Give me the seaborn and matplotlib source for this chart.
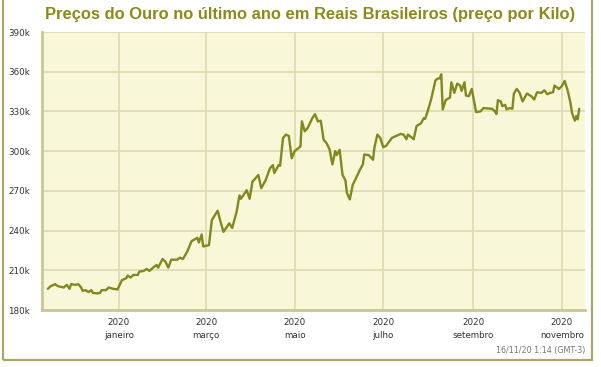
"""
Gold price in Brazilian reais per kilo, last year (recreated chart).
"""

import matplotlib
matplotlib.use("Agg")

import matplotlib.pyplot as plt
import matplotlib.ticker as mticker
import pandas as pd
import seaborn as sns
from matplotlib.patches import Rectangle


DATES = [
    "2019-11-13", "2019-11-15", "2019-11-18", "2019-11-20", "2019-11-24",
    "2019-11-26", "2019-11-28", "2019-11-29", "2019-12-02", "2019-12-04",
    "2019-12-06", "2019-12-07", "2019-12-09", "2019-12-11", "2019-12-13",
    "2019-12-14", "2019-12-17", "2019-12-19", "2019-12-20", "2019-12-23",
    "2019-12-25", "2019-12-28", "2019-12-31", "2020-01-03", "2020-01-06",
    "2020-01-07", "2020-01-09", "2020-01-11", "2020-01-14", "2020-01-15",
    "2020-01-18", "2020-01-20", "2020-01-22", "2020-01-25", "2020-01-27",
    "2020-01-28", "2020-01-31", "2020-02-02", "2020-02-04", "2020-02-06",
    "2020-02-10", "2020-02-12", "2020-02-14", "2020-02-17", "2020-02-20",
    "2020-02-24", "2020-02-25", "2020-02-27", "2020-02-28", "2020-03-03",
    "2020-03-05", "2020-03-09", "2020-03-11", "2020-03-13", "2020-03-17",
    "2020-03-19", "2020-03-22", "2020-03-24", "2020-03-25", "2020-03-29",
    "2020-03-31", "2020-04-02", "2020-04-06", "2020-04-08", "2020-04-11",
    "2020-04-14", "2020-04-16", "2020-04-17", "2020-04-20", "2020-04-21",
    "2020-04-23", "2020-04-25", "2020-04-27", "2020-04-29", "2020-05-01",
    "2020-05-05", "2020-05-06", "2020-05-08", "2020-05-10", "2020-05-13",
    "2020-05-15", "2020-05-17", "2020-05-19", "2020-05-21", "2020-05-23",
    "2020-05-25", "2020-05-27", "2020-05-29", "2020-05-30", "2020-06-01",
    "2020-06-03", "2020-06-05", "2020-06-06", "2020-06-08", "2020-06-10",
    "2020-06-12", "2020-06-15", "2020-06-17", "2020-06-18", "2020-06-21",
    "2020-06-24", "2020-06-25", "2020-06-27", "2020-06-29", "2020-07-01",
    "2020-07-03", "2020-07-07", "2020-07-09", "2020-07-13", "2020-07-15",
    "2020-07-17", "2020-07-18", "2020-07-21", "2020-07-22", "2020-07-24",
    "2020-07-27", "2020-07-29", "2020-07-30", "2020-08-01", "2020-08-03",
    "2020-08-06", "2020-08-08", "2020-08-09", "2020-08-10", "2020-08-11",
    "2020-08-13", "2020-08-16", "2020-08-17", "2020-08-19", "2020-08-21",
    "2020-08-23", "2020-08-24", "2020-08-26", "2020-08-27", "2020-08-29",
    "2020-08-31", "2020-09-03", "2020-09-06", "2020-09-08", "2020-09-14",
    "2020-09-16", "2020-09-17", "2020-09-18", "2020-09-20", "2020-09-21",
    "2020-09-23", "2020-09-24", "2020-09-26", "2020-09-28", "2020-09-29",
    "2020-10-01", "2020-10-03", "2020-10-05", "2020-10-08", "2020-10-11",
    "2020-10-13", "2020-10-15", "2020-10-18", "2020-10-20", "2020-10-22",
    "2020-10-24", "2020-10-26", "2020-10-27", "2020-10-30", "2020-11-01",
    "2020-11-03", "2020-11-05", "2020-11-07", "2020-11-08", "2020-11-10",
    "2020-11-11", "2020-11-12", "2020-11-13",
]

# Preço em milhares de reais por kilo
PRECOS_K = [
    196, 198, 199.5, 198, 197,
    199, 196, 199.5, 199, 199.5,
    197, 194.5, 195, 193.5, 195,
    193, 192.5, 193, 195, 195,
    197, 196, 195.5, 202.5, 204,
    206, 204.5, 206.5, 206.5, 209,
    209.5, 211, 209.5, 212.5, 214,
    212, 218.5, 216.5, 212, 218,
    218, 219.5, 218.5, 224, 232,
    234.5, 231, 237, 228, 229,
    248, 255, 246.5, 239, 245.5,
    242, 254, 266.5, 264, 270.5,
    264, 277, 282, 272, 278,
    287, 289.5, 283.5, 289.5, 289,
    310, 312.5, 311.5, 294.6, 300,
    303.5, 322.5, 315, 317.5, 324.5,
    328, 322.5, 323, 308.5, 306,
    301.5, 290, 300, 297, 301,
    282, 278, 268.5, 263.5, 274.5,
    279, 286, 290, 297.5, 297,
    293.5, 303, 312.5, 310, 303,
    304, 310, 311, 313, 312.5,
    309, 312.5, 310, 309, 319,
    321, 325, 324.5, 331.5, 339,
    353.5, 355, 355, 358, 331.5,
    338.5, 340.5, 352, 344, 351,
    349.5, 345.5, 352, 342, 341.5,
    347, 329.5, 330, 332.5, 332,
    330, 328, 338.5, 337.5, 334,
    335, 331.5, 332.5, 332, 343.5,
    347, 344, 337.5, 343.5, 341.5,
    339, 344.5, 344, 346, 343,
    344, 344.5, 349.5, 347, 349,
    353, 346, 336.5, 329, 323,
    326.5, 324, 332,
]

GRID_DATES = ["2020-01-01", "2020-03-01", "2020-05-01", "2020-07-01", "2020-09-01", "2020-11-01"]
GRID_LABELS = ["2020\njaneiro", "2020\nmarço", "2020\nmaio", "2020\njulho", "2020\nsetembro", "2020\nnovembro"]
Y_TICKS = [180, 210, 240, 270, 300, 330, 360, 390]

TITLE = "Preços do Ouro no último ano em Reais Brasileiros (preço por Kilo)"
TIMESTAMP = "16/11/20 1:14 (GMT-3)"

LINE_COLOR = "#7c8a1e"
TITLE_COLOR = "#8b8b1a"
PLOT_BG = "#f8f8d8"
GRID_COLOR = "#deddb4"
AXIS_COLOR = "#c9c792"
FRAME_COLOR = "#a9a86a"


def main() -> None:
    sns.set_style("white")
    plt.rcParams["font.family"] = ["DejaVu Sans"]

    df = pd.DataFrame({"Data": pd.to_datetime(DATES), "Preco": PRECOS_K})

    fig = plt.figure(figsize=(6.01, 3.67), dpi=100)
    fig.patch.set_facecolor("white")

    # Moldura externa
    fig.patches.append(
        Rectangle((3 / 601, 1 - 360 / 367), 589 / 601, 370 / 367,
                  transform=fig.transFigure, fill=False,
                  edgecolor=FRAME_COLOR, linewidth=1.6, zorder=0)
    )

    ax = fig.add_axes([42 / 601, 1 - 310 / 367, 543 / 601, 278 / 367])
    ax.set_facecolor(PLOT_BG)

    sns.lineplot(data=df, x="Data", y="Preco", ax=ax, color=LINE_COLOR,
                 linewidth=1.7, zorder=3)

    ax.set_xlim(pd.Timestamp("2019-11-09"), pd.Timestamp("2020-11-17"))
    ax.set_ylim(180, 390)

    grid_dates = pd.to_datetime(GRID_DATES)
    ax.set_xticks(grid_dates)
    ax.set_xticklabels(GRID_LABELS, fontsize=6.3, color="#333333", linespacing=1.5)
    ax.set_yticks(Y_TICKS)
    ax.yaxis.set_major_formatter(mticker.FuncFormatter(lambda v, _: f"{int(v)}k"))
    ax.tick_params(axis="y", labelsize=6.3, labelcolor="#333333", length=0, pad=8.5)
    ax.tick_params(axis="x", length=5, width=1.0, color="#c8d6e4", pad=1)

    ax.grid(True, color=GRID_COLOR, linewidth=1.3, zorder=1)
    ax.set_axisbelow(True)
    ax.set_xlabel("")
    ax.set_ylabel("")

    for side in ["top", "right"]:
        ax.spines[side].set_visible(False)
    for side in ["left", "bottom"]:
        ax.spines[side].set_color(AXIS_COLOR)
        ax.spines[side].set_linewidth(2.0)

    fig.text(310 / 601, 1 - 15 / 367, TITLE, ha="center", va="center",
             fontsize=11.9, fontweight="bold", color=TITLE_COLOR,
             family=["Liberation Sans", "DejaVu Sans"])
    fig.text(585 / 601, 1 - 350 / 367, TIMESTAMP, ha="right", va="center",
             fontsize=5.8, color="#777777")

    fig.savefig("out.png", dpi=100)
    plt.close(fig)


if __name__ == "__main__":
    main()
